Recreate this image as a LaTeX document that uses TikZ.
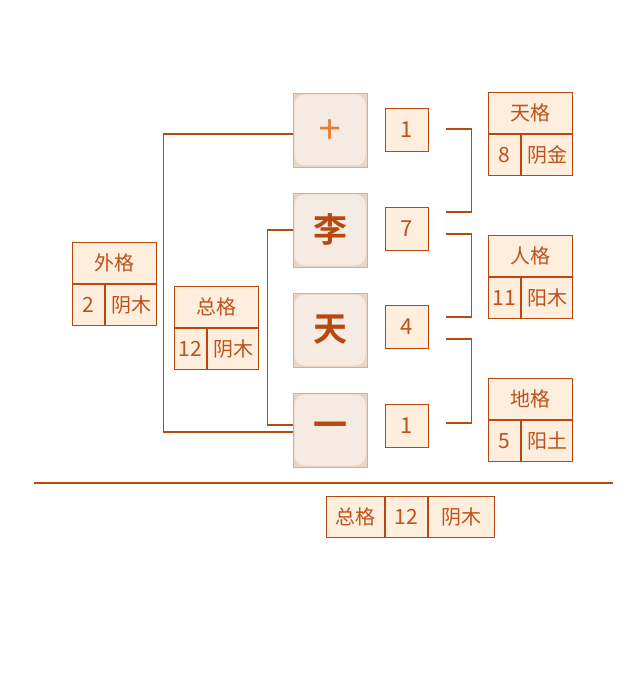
\documentclass[tikz,border=0pt]{standalone}
\usepackage{fontspec}
\setmainfont{Noto Sans CJK SC}[BoldFont={Noto Sans CJK SC Bold}]
\definecolor{brd}{RGB}{184,72,14}
\definecolor{peach}{RGB}{253,238,222}
\definecolor{ink}{RGB}{192,80,26}
\definecolor{boxfill}{RGB}{245,235,227}
\definecolor{boxedge}{RGB}{214,176,150}
\definecolor{corner}{RGB}{234,212,196}
\definecolor{shicol}{RGB}{236,122,44}
\begin{document}
\begin{tikzpicture}
[
    x=1pt, y=-1pt,
    line width=1.3pt,
    cell/.style={draw=brd, fill=peach, text=ink, inner sep=0pt, minimum height=41pt,
        font=\fontsize{20}{20}\selectfont},
    head/.style={cell, minimum width=84pt},
    numcell/.style={cell, minimum width=32pt, font=\fontsize{21}{21}\selectfont},
    wxcell/.style={cell, minimum width=51pt},
    digit/.style={cell, minimum width=43pt, minimum height=43pt, font=\fontsize{22}{22}\selectfont},
    charbox/.style={draw=boxedge, line width=0.8pt, fill=corner, minimum size=74pt, inner sep=0pt,
        text=brd, font=\fontsize{34}{34}\selectfont\bfseries,
        path picture={\fill[boxfill, rounded corners=10pt]
            ([shift={(1.5pt,1.5pt)}]path picture bounding box.south west) rectangle
            ([shift={(-1.5pt,-1.5pt)}]path picture bounding box.north east);}},
    bracket/.style={draw=brd, line width=1.3pt},
]
\useasboundingbox (0,0) rectangle (640,700);

% name characters
\node[charbox, font=\fontsize{21}{21}\selectfont\bfseries, text=shicol] (c1) at (330,130) {十};
\node[charbox] (c2) at (330,230) {李};
\node[charbox] (c3) at (330,330) {天};
\node[charbox] (c4) at (330,430) {一};

% strokes
\node[digit] (n1) at (407,130) {1};
\node[digit] (n2) at (407,229) {7};
\node[digit] (n3) at (407,327) {4};
\node[digit] (n4) at (407,426) {1};

% tiange, renge, dige
\node[head] (tg) at (530.5,113) {天格};
\node[numcell, anchor=north west] (tgn) at (tg.south west) {8};
\node[wxcell, anchor=north east] (tgw) at (tg.south east) {阴金};
\node[head] (rg) at (530.5,256) {人格};
\node[numcell, anchor=north west] (rgn) at (rg.south west) {11};
\node[wxcell, anchor=north east] (rgw) at (rg.south east) {阳木};
\node[head] (dg) at (530.5,399) {地格};
\node[numcell, anchor=north west] (dgn) at (dg.south west) {5};
\node[wxcell, anchor=north east] (dgw) at (dg.south east) {阳土};

% waige, zongge
\node[head] (wg) at (114.5,263) {外格};
\node[numcell, anchor=north west] (wgn) at (wg.south west) {2};
\node[wxcell, anchor=north east] (wgw) at (wg.south east) {阴木};
\node[head] (zg) at (216.5,307) {总格};
\node[numcell, anchor=north west] (zgn) at (zg.south west) {12};
\node[wxcell, anchor=north east] (zgw) at (zg.south east) {阴木};

\draw[bracket] ([yshift=-4pt]c1.west) -- ++(-129,0) |- ([yshift=-2pt]c4.west);
\draw[bracket] (c2.west) -- ++(-25,0) |- ([yshift=5pt]c4.west);
\draw[bracket] ([xshift=17pt,yshift=1pt]n1.east) -- ++(25,0) |- ([xshift=17pt,yshift=17pt]n2.east);
\draw[bracket] ([xshift=17pt,yshift=-5pt]n2.east) -- ++(25,0) |- ([xshift=17pt,yshift=10pt]n3.east);
\draw[bracket] ([xshift=17pt,yshift=-12pt]n3.east) -- ++(25,0) |- ([xshift=17pt,yshift=3pt]n4.east);

\draw[brd, line width=2.5pt] (34,483) -- (613,483);

% summary row
\node[cell, line width=1pt, minimum width=58pt, anchor=north west] (sz) at (326,496) {总格};
\node[cell, line width=1pt, minimum width=42pt, anchor=north west, font=\fontsize{21}{21}\selectfont] (sn) at (sz.north east) {12};
\node[cell, line width=1pt, minimum width=66pt, anchor=north west] (sw) at (sn.north east) {阴木};
\end{tikzpicture}
\end{document}
